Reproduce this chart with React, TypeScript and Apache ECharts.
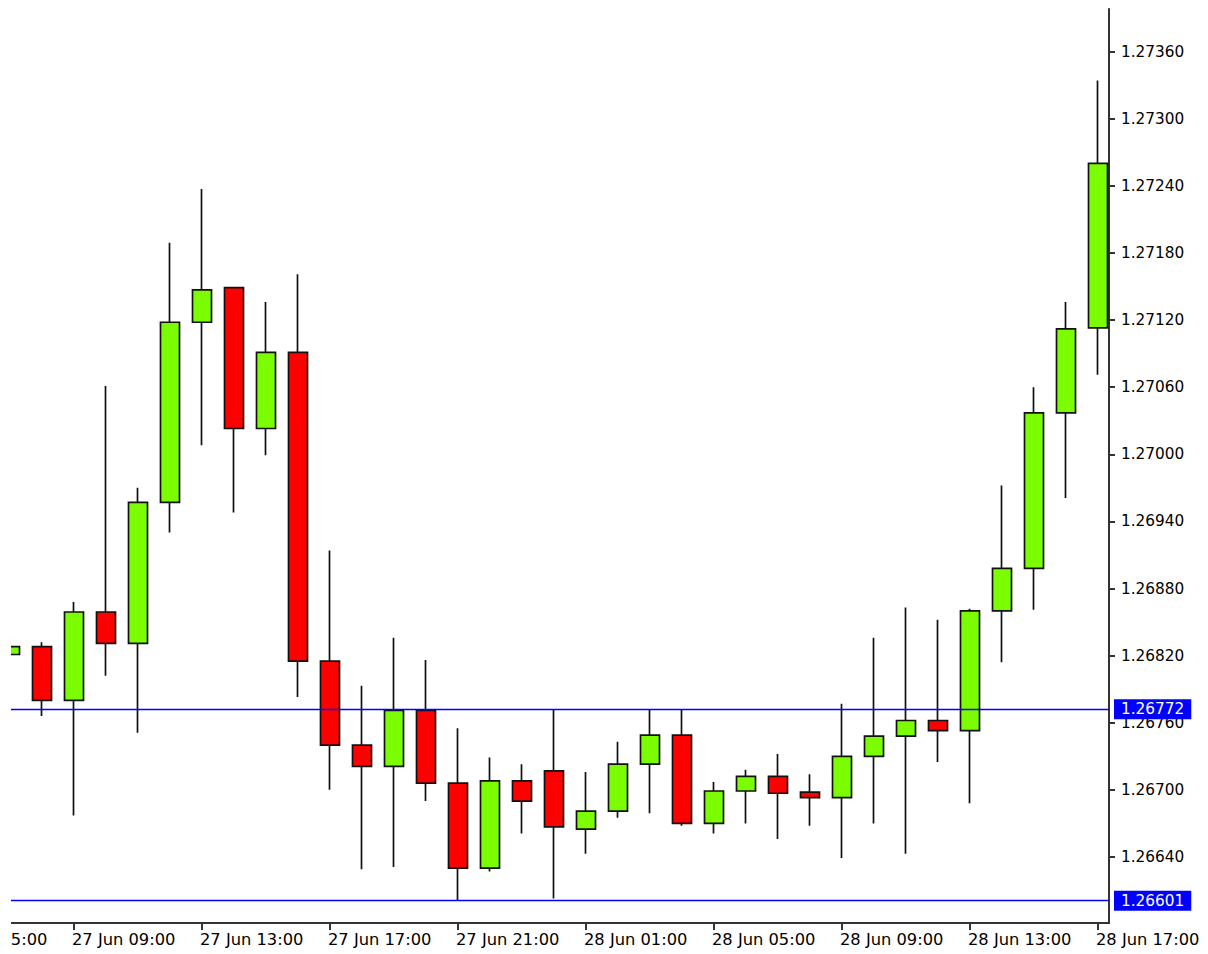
import React, { useEffect, useRef } from "react";
import * as echarts from "echarts";

// Hourly candles, index 0 = 27 Jun 07:00 ... index 34 = 28 Jun 17:00
const times = [
  "27 Jun 07:00", "27 Jun 08:00", "27 Jun 09:00", "27 Jun 10:00", "27 Jun 11:00", "27 Jun 12:00",
  "27 Jun 13:00", "27 Jun 14:00", "27 Jun 15:00", "27 Jun 16:00", "27 Jun 17:00", "27 Jun 18:00",
  "27 Jun 19:00", "27 Jun 20:00", "27 Jun 21:00", "27 Jun 22:00", "27 Jun 23:00", "28 Jun 00:00",
  "28 Jun 01:00", "28 Jun 02:00", "28 Jun 03:00", "28 Jun 04:00", "28 Jun 05:00", "28 Jun 06:00",
  "28 Jun 07:00", "28 Jun 08:00", "28 Jun 09:00", "28 Jun 10:00", "28 Jun 11:00", "28 Jun 12:00",
  "28 Jun 13:00", "28 Jun 14:00", "28 Jun 15:00", "28 Jun 16:00", "28 Jun 17:00",
];

const opens = [
  1.26821, 1.26828, 1.2678, 1.26859, 1.26831, 1.26957, 1.27118, 1.27149, 1.27023, 1.27091,
  1.26815, 1.2674, 1.26721, 1.26771, 1.26706, 1.2663, 1.26708, 1.26717, 1.26665, 1.26681,
  1.26723, 1.26749, 1.2667, 1.26699, 1.26712, 1.26698, 1.26693, 1.2673, 1.26748, 1.26762,
  1.26753, 1.2686, 1.26898, 1.27037, 1.27113,
];
const closes = [
  1.26828, 1.2678, 1.26859, 1.26831, 1.26957, 1.27118, 1.27147, 1.27023, 1.27091, 1.26815,
  1.2674, 1.26721, 1.26771, 1.26706, 1.2663, 1.26708, 1.2669, 1.26667, 1.26681, 1.26723,
  1.26749, 1.2667, 1.26699, 1.26712, 1.26697, 1.26693, 1.2673, 1.26748, 1.26762, 1.26753,
  1.2686, 1.26898, 1.27037, 1.27112, 1.2726,
];
const highs = [
  1.26828, 1.26832, 1.26868, 1.27061, 1.2697, 1.27189, 1.27237, 1.27149, 1.27136, 1.27161,
  1.26914, 1.26793, 1.26836, 1.26816, 1.26755, 1.26729, 1.26723, 1.26772, 1.26716, 1.26743,
  1.26772, 1.26772, 1.26707, 1.26718, 1.26732, 1.26714, 1.26777, 1.26836, 1.26863, 1.26852,
  1.26862, 1.26972, 1.2706, 1.27136, 1.27334,
];
const lows = [
  1.26821, 1.26766, 1.26677, 1.26802, 1.26751, 1.2693, 1.27008, 1.26948, 1.26999, 1.26783,
  1.267, 1.26629, 1.26631, 1.2669, 1.26601, 1.26627, 1.26661, 1.26603, 1.26643, 1.26675,
  1.26679, 1.26668, 1.26661, 1.2667, 1.26656, 1.26668, 1.26639, 1.2667, 1.26643, 1.26725,
  1.26688, 1.26814, 1.26861, 1.26961, 1.27071,
];

// Time-axis tick positions (candle index) and their labels
const xTickIndex = [-2, 2, 6, 10, 14, 18, 22, 26, 30, 34];
const xTickLabels = [
  "27 Jun 05:00", "27 Jun 09:00", "27 Jun 13:00", "27 Jun 17:00", "27 Jun 21:00",
  "28 Jun 01:00", "28 Jun 05:00", "28 Jun 09:00", "28 Jun 13:00", "28 Jun 17:00",
];

// Price-axis ticks
const yTicks = [
  1.2664, 1.267, 1.2676, 1.2682, 1.2688, 1.2694, 1.27, 1.2706, 1.2712, 1.2718, 1.2724, 1.273, 1.2736,
];

// Horizontal levels
const levels = [1.26772, 1.26601];

const FONT = "DejaVu Sans";

export default function App() {
  const ref = useRef<HTMLDivElement>(null);

  useEffect(() => {
    if (!ref.current) return;
    const chart = echarts.init(ref.current, undefined, { renderer: "svg" });

    const data = times.map((_, i) => [i, opens[i], closes[i], lows[i], highs[i]]);

    chart.setOption({
      animation: false,
      backgroundColor: "#ffffff",
      grid: {
        left: -54,
        right: 99,
        top: 9,
        bottom: 31,
        containLabel: false,
        outerBoundsMode: "none",
      },
      xAxis: {
        type: "value",
        min: -2,
        max: 34.34375,
        splitLine: { show: false },
        axisLine: { show: true, onZero: false, lineStyle: { color: "#333", width: 2 } },
        axisTick: { show: true, length: 7, lineStyle: { color: "#333", width: 2 }, customValues: xTickIndex },
        axisLabel: {
          customValues: xTickIndex,
          formatter: (v: number) => {
            const k = xTickIndex.indexOf(Math.round(v));
            return k >= 0 ? xTickLabels[k] : "";
          },
          align: "left",
          margin: 8,
          color: "#000",
          fontFamily: FONT,
          fontSize: 16.3,
          padding: [0, 0, 0, -2],
          hideOverlap: false,
        },
      },
      yAxis: {
        type: "value",
        position: "right",
        min: 1.26581,
        max: 1.27398,
        splitLine: { show: false },
        axisLine: { show: true, onZero: false, lineStyle: { color: "#333", width: 2 } },
        axisTick: { show: true, length: 6, lineStyle: { color: "#333", width: 2 }, customValues: yTicks },
        axisLabel: {
          customValues: yTicks,
          formatter: (v: number) => v.toFixed(5),
          margin: 12,
          color: "#000",
          fontFamily: FONT,
          fontSize: 15.3,
        },
      },
      series: [
        {
          type: "candlestick",
          data,
          barWidth: 19,
          itemStyle: {
            color: "#7CFC00",
            color0: "#FF0000",
            borderColor: "#111",
            borderColor0: "#111",
            borderWidth: 1.7,
          },
        },
        {
          type: "line",
          data: [],
          silent: true,
          markLine: {
            silent: true,
            precision: 5,
            symbol: ["none", "none"],
            lineStyle: { color: "#0000FF", width: 1.3, type: "solid" },
            label: {
              show: true,
              position: "end",
              distance: 5,
              formatter: (p: any) => Number(p.value).toFixed(5),
              backgroundColor: "#0000FF",
              color: "#ffffff",
              fontFamily: FONT,
              fontSize: 15.3,
              lineHeight: 16,
              padding: [2, 7, 2, 7],
            },
            data: levels.map((v) => ({ yAxis: v })),
          },
        },
      ],
      graphic: [
        {
          type: "rect",
          left: 0,
          top: 0,
          shape: { width: 11, height: 954 },
          style: { fill: "#ffffff" },
          z: 100,
          silent: true,
        },
      ],
    });

    return () => chart.dispose();
  }, []);

  return (
    <div
      ref={ref}
      style={{ position: "absolute", left: 0, top: 0, width: 1208, height: 954 }}
    />
  );
}
